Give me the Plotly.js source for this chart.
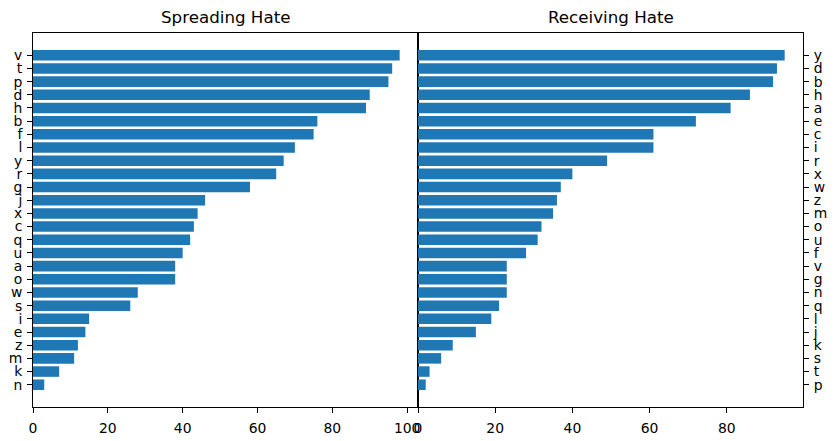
<!DOCTYPE html>
<html>
<head>
<meta charset="utf-8">
<script src="https://cdn.plot.ly/plotly-3.0.1.min.js"></script>
<style>html,body{margin:0;padding:0;background:#fff;}#chart{width:836px;height:441px;}</style>
</head>
<body>
<div id="chart"></div>
<script>
// Spreading Hate (top to bottom)
const spreadLabels = ["v","t","p","d","h","b","f","l","y","r","g","j","x","c","q","u","a","o","w","s","i","e","z","m","k","n"];
const spreadValues = [98,96,95,90,89,76,75,70,67,65,58,46,44,43,42,40,38,38,28,26,15,14,12,11,7,3];
// Receiving Hate (top to bottom)
const recvLabels = ["y","d","b","h","a","e","c","i","r","x","w","z","m","o","u","f","v","g","n","q","l","j","k","s","t","p"];
const recvValues = [95,93,92,86,81,72,61,61,49,40,37,36,35,32,31,28,23,23,23,21,19,15,9,6,3,2];
const titles = ["Spreading Hate", "Receiving Hate"];

const blue = "#1f77b4";
const font = {family: "DejaVu Sans", size: 13.9, color: "#000"};
const n = spreadLabels.length;
const yRange = [-0.4 - 0.05*(n-0.2), (n-1) + 0.4 + 0.05*(n-0.2)];
const maxS = Math.max(...spreadValues), maxR = Math.max(...recvValues);
const sY = spreadLabels.slice().reverse();
const rY = recvLabels.slice().reverse();

const traces = [
  {type: "bar", orientation: "h", x: spreadValues.slice().reverse(), y: sY,
   marker: {color: blue}, width: 0.8, xaxis: "x", yaxis: "y", hoverinfo: "none"},
  {type: "bar", orientation: "h", x: recvValues.slice().reverse(), y: rY,
   marker: {color: blue}, width: 0.8, xaxis: "x2", yaxis: "y2", hoverinfo: "none"}
];

const axCommon = {showline: true, linecolor: "#000", linewidth: 1, mirror: true, ticks: "outside",
  ticklen: 4.9, tickwidth: 1, tickcolor: "#000", showgrid: false, zeroline: false, tickfont: font};

const layout = {
  width: 836, height: 441,
  margin: {l: 33, r: 33, t: 33, b: 33.5, pad: 0},
  paper_bgcolor: "#fff", plot_bgcolor: "#fff",
  showlegend: false,
  font: font,
  xaxis: Object.assign({}, axCommon, {domain: [0, 0.5], range: [0, maxS*1.05], anchor: "y",
    tickvals: [0,20,40,60,80,100], ticklabelstandoff: 3}),
  xaxis2: Object.assign({}, axCommon, {domain: [0.5, 1], range: [0, maxR*1.05], anchor: "y2",
    tickvals: [0,20,40,60,80], ticklabelstandoff: 3}),
  yaxis: Object.assign({}, axCommon, {anchor: "x", type: "category", range: yRange, side: "left",
    tickmode: "array", tickvals: sY, ticktext: sY, ticklabelstandoff: 2}),
  yaxis2: Object.assign({}, axCommon, {anchor: "x2", type: "category", range: yRange, side: "right",
    tickmode: "array", tickvals: rY, ticktext: rY, ticklabelstandoff: 2}),
  annotations: [
    {text: titles[0], xref: "paper", yref: "paper", x: 0.25, y: 1, xanchor: "center", yanchor: "bottom",
     yshift: 4, showarrow: false, font: {family: "DejaVu Sans", size: 16.7, color: "#000"}},
    {text: titles[1], xref: "paper", yref: "paper", x: 0.75, y: 1, xanchor: "center", yanchor: "bottom",
     yshift: 4, showarrow: false, font: {family: "DejaVu Sans", size: 16.7, color: "#000"}}
  ]
};

Plotly.newPlot("chart", traces, layout, {staticPlot: true, displayModeBar: false});
</script>
</body>
</html>
